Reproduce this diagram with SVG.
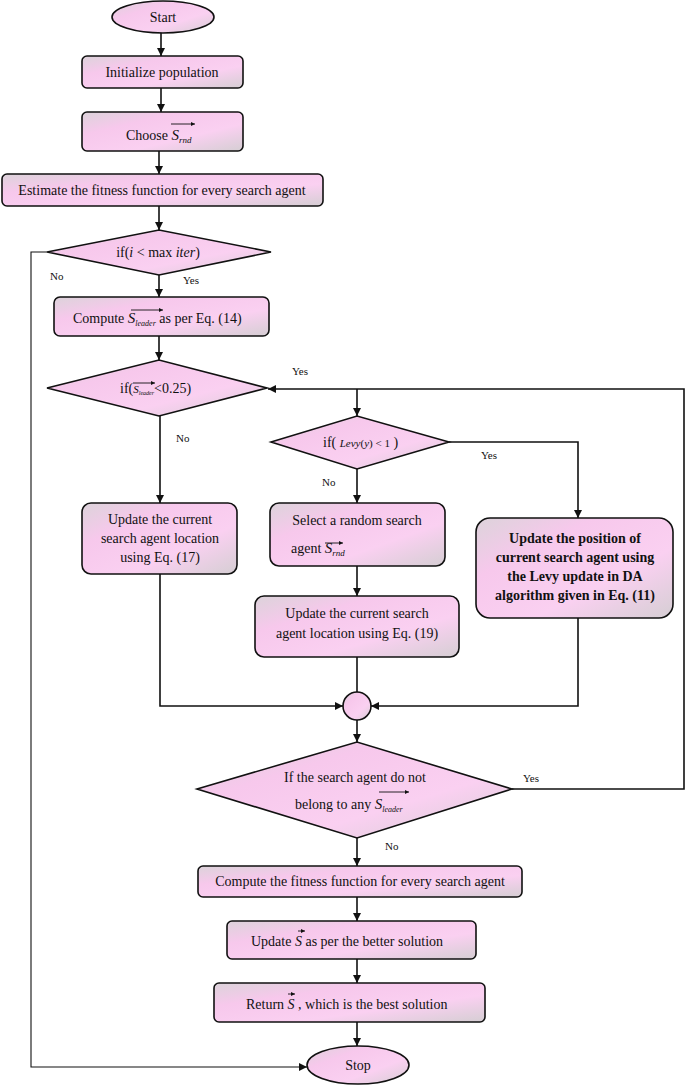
<svg xmlns="http://www.w3.org/2000/svg" width="685" height="1086" viewBox="0 0 685 1086">
<style>
.shape{fill:url(#pk);stroke:#111;stroke-width:1.6}
.t{font-family:"Liberation Serif","Times New Roman",serif;font-size:14px;fill:#111;text-anchor:middle}
.ts{font-family:"Liberation Serif","Times New Roman",serif;font-size:14px;fill:#111}
.b{font-weight:bold}
.lab{font-family:"Liberation Serif","Times New Roman",serif;font-size:11px;fill:#111}
.c{fill:none;stroke:#111;stroke-width:1.6}
.c2{fill:none;stroke:#111;stroke-width:1.1}
.v{fill:none;stroke:#111;stroke-width:0.9}
</style>
<defs>
<linearGradient id="pk" x1="0" y1="0" x2="1" y2="1">
<stop offset="0" stop-color="#dcd3da"/>
<stop offset="0.3" stop-color="#f7c8ec"/>
<stop offset="0.65" stop-color="#fad0f1"/>
<stop offset="1" stop-color="#d5ced3"/>
</linearGradient>
<marker id="ah" viewBox="0 0 10 10" refX="10" refY="5" markerWidth="8" markerHeight="8" markerUnits="userSpaceOnUse" orient="auto">
<path d="M0,0 L10,5 L0,10 z" fill="#111"/>
</marker>
<marker id="va" viewBox="0 0 10 10" refX="10" refY="5" markerWidth="5" markerHeight="4" markerUnits="userSpaceOnUse" orient="auto">
<path d="M0,0 L10,5 L0,10 z" fill="#111"/>
</marker>
</defs>
<rect width="685" height="1086" fill="#fff"/>

<g id="connectors">
<path class="c" d="M161 32 V56" marker-end="url(#ah)"/>
<path class="c" d="M161 88 V112" marker-end="url(#ah)"/>
<path class="c" d="M159 151 V174" marker-end="url(#ah)"/>
<path class="c" d="M159 206 V230" marker-end="url(#ah)"/>
<path class="c" d="M159 275 V297" marker-end="url(#ah)"/>
<path class="c" d="M159 336 V360" marker-end="url(#ah)"/>
<path class="c" d="M160 416 V503" marker-end="url(#ah)"/>
<path class="c" d="M512 789 H684 V389 H268" marker-end="url(#ah)"/>
<path class="c" d="M357 389 V416" marker-end="url(#ah)"/>
<path class="c" d="M357 469 V503" marker-end="url(#ah)"/>
<path class="c" d="M449 442 H578 V518" marker-end="url(#ah)"/>
<path class="c" d="M357 566 V596" marker-end="url(#ah)"/>
<path class="c" d="M357 657 V692"/>
<path class="c" d="M160 574 V706 H343" marker-end="url(#ah)"/>
<path class="c" d="M578 618 V706 H371" marker-end="url(#ah)"/>
<path class="c" d="M357 720 V742" marker-end="url(#ah)"/>
<path class="c" d="M357 838 V866" marker-end="url(#ah)"/>
<path class="c" d="M357 897 V921" marker-end="url(#ah)"/>
<path class="c" d="M357 959 V983" marker-end="url(#ah)"/>
<path class="c" d="M357 1022 V1046" marker-end="url(#ah)"/>
<path class="c2" d="M47 252 H31 V1067 H307" marker-end="url(#ah)"/>
<text class="lab" x="50" y="280">No</text>
<text class="lab" x="183" y="284">Yes</text>
<text class="lab" x="292" y="375">Yes</text>
<text class="lab" x="176" y="442">No</text>
<text class="lab" x="481" y="459">Yes</text>
<text class="lab" x="322" y="486">No</text>
<text class="lab" x="523" y="782">Yes</text>
<text class="lab" x="385" y="850">No</text>
</g>

<g id="start">
<ellipse class="shape" cx="163" cy="17" rx="51" ry="16"/>
<text class="t" x="163" y="22" font-size="15">Start</text>
</g>

<g id="init">
<rect class="shape" x="82" y="56" width="161" height="32" rx="5"/>
<text class="t" x="162" y="77">Initialize population</text>
</g>

<g id="choose">
<rect class="shape" x="82" y="112" width="161" height="39" rx="5"/>
<text class="ts" x="126" y="140">Choose <tspan font-style="italic" font-size="15">S</tspan><tspan font-style="italic" font-size="9" dy="3">rnd</tspan></text>
<path class="v" d="M171 124 H195" marker-end="url(#va)"/>
</g>

<g id="estimate">
<rect class="shape" x="2" y="174" width="321" height="32" rx="5"/>
<text class="t" x="162" y="195">Estimate the fitness function for every search agent</text>
</g>

<g id="cond-iter">
<polygon class="shape" points="47,252 159,230 271,252 159,275"/>
<text class="t" x="158" y="257">if(<tspan font-style="italic">i</tspan> &lt;  max <tspan font-style="italic">iter</tspan>)</text>
</g>

<g id="compute-leader">
<rect class="shape" x="54" y="297" width="215" height="39" rx="6"/>
<text class="ts" x="73" y="323">Compute  <tspan font-style="italic" font-size="15">S</tspan><tspan font-style="italic" font-size="8" dy="3">leader</tspan><tspan dy="-3"> as per Eq. (14)</tspan></text>
<path class="v" d="M131 310 H163" marker-end="url(#va)"/>
</g>

<g id="cond-leader">
<polygon class="shape" points="47,388 159,360 267,388 159,416"/>
<text class="ts" x="120" y="393">if(<tspan font-style="italic" font-size="11">S</tspan><tspan font-style="italic" font-size="6" dy="2">leader</tspan><tspan dy="-2">&lt;0.25)</tspan></text>
<path class="v" d="M133 383 H155" marker-end="url(#va)"/>
</g>

<g id="cond-levy">
<polygon class="shape" points="271,442 357,416 449,442 357,469"/>
<text class="ts" x="323" y="447">if( <tspan font-style="italic" font-size="11">Levy</tspan><tspan font-size="11">(</tspan><tspan font-style="italic" font-size="11">y</tspan><tspan font-size="11">) &lt; 1</tspan> )</text>
</g>

<g id="update17">
<rect class="shape" x="82" y="503" width="155" height="71" rx="9"/>
<text class="t" x="160" y="524">Update the current</text>
<text class="t" x="160" y="543">search agent location</text>
<text class="t" x="160" y="562">using Eq. (17)</text>
</g>

<g id="select">
<rect class="shape" x="270" y="503" width="175" height="63" rx="9"/>
<text class="t" x="357" y="525">Select a random search</text>
<text class="ts" x="291" y="553">agent <tspan font-style="italic" font-size="15">S</tspan><tspan font-style="italic" font-size="9" dy="3">rnd</tspan></text>
<path class="v" d="M325 543 H343" marker-end="url(#va)"/>
</g>

<g id="update19">
<rect class="shape" x="255" y="596" width="204" height="61" rx="9"/>
<text class="t" x="357" y="618">Update the current search</text>
<text class="t" x="357" y="638">agent location using Eq. (19)</text>
</g>

<g id="levy-update">
<rect class="shape" x="476" y="518" width="197" height="100" rx="14"/>
<text class="t b" x="575" y="543">Update the position of</text>
<text class="t b" x="575" y="562">current search agent using</text>
<text class="t b" x="575" y="581">the Levy update in DA</text>
<text class="t b" x="575" y="600">algorithm given in Eq. (11)</text>
</g>

<g id="merge">
<circle class="shape" cx="357" cy="706" r="14"/>
</g>

<g id="cond-belong">
<polygon class="shape" points="197,789 357,742 512,789 357,838"/>
<text class="t" x="355" y="782">If the search agent do not</text>
<text class="ts" x="295" y="809">belong to any  <tspan font-style="italic" font-size="15">S</tspan><tspan font-style="italic" font-size="8" dy="3">leader</tspan></text>
<path class="v" d="M379 792 H409" marker-end="url(#va)"/>
</g>

<g id="compute-fitness">
<rect class="shape" x="198" y="866" width="324" height="31" rx="5"/>
<text class="t" x="360" y="886">Compute the fitness function for every search agent</text>
</g>

<g id="update-s">
<rect class="shape" x="227" y="921" width="249" height="38" rx="5"/>
<text class="ts" x="251" y="946">Update  <tspan font-style="italic">S</tspan> as per the better solution</text>
<path class="v" d="M298 931 H305" marker-end="url(#va)"/>
</g>

<g id="return">
<rect class="shape" x="214" y="983" width="271" height="39" rx="5"/>
<text class="ts" x="246" y="1009">Return <tspan font-style="italic">S</tspan> , which is the best solution</text>
<path class="v" d="M288 994 H295" marker-end="url(#va)"/>
</g>

<g id="stop">
<ellipse class="shape" cx="358" cy="1065" rx="51" ry="19"/>
<text class="t" x="358" y="1070" font-size="15">Stop</text>
</g>
</svg>
